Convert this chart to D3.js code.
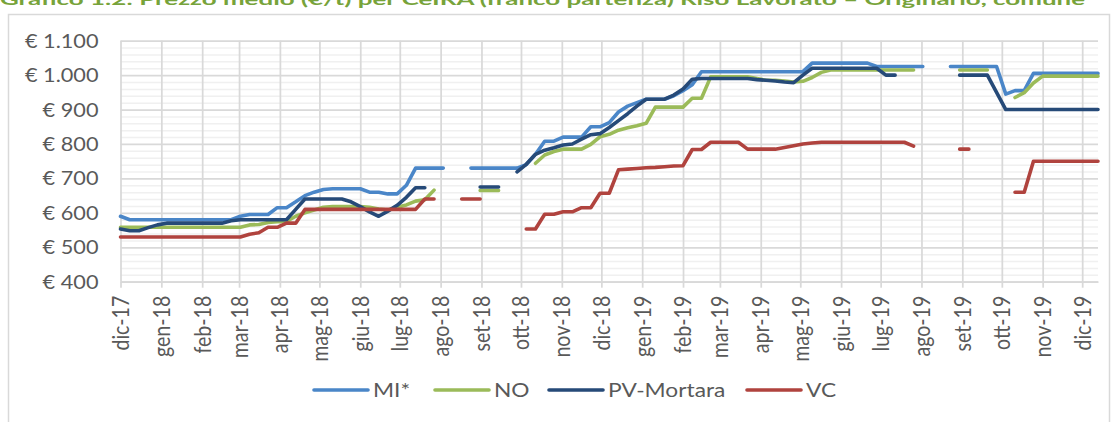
<!DOCTYPE html>
<html><head><meta charset="utf-8">
<script src="https://cdn.jsdelivr.net/npm/d3@7"></script>
<style>body{margin:0;background:#fff}svg{display:block}</style>
</head><body>
<svg width="1115" height="422"></svg>
<script>
const dates = [
"2017-12-05","2017-12-12","2017-12-19","2017-12-26","2018-01-02","2018-01-09","2018-01-16","2018-01-23","2018-01-30",
"2018-02-06","2018-02-13","2018-02-20","2018-02-27","2018-03-06","2018-03-13","2018-03-20","2018-03-27",
"2018-04-03","2018-04-10","2018-04-17","2018-04-24","2018-05-01","2018-05-08","2018-05-15","2018-05-22","2018-05-29",
"2018-06-05","2018-06-12","2018-06-19","2018-06-26","2018-07-03","2018-07-10","2018-07-17","2018-07-24","2018-07-31",
"2018-08-07","2018-08-14","2018-08-21","2018-08-28","2018-09-04","2018-09-11","2018-09-18","2018-09-25",
"2018-10-02","2018-10-09","2018-10-16","2018-10-23","2018-10-30","2018-11-06","2018-11-13","2018-11-20","2018-11-27",
"2018-12-04","2018-12-11","2018-12-18","2018-12-25","2019-01-01","2019-01-08","2019-01-15","2019-01-22","2019-01-29",
"2019-02-05","2019-02-12","2019-02-19","2019-02-26","2019-03-05","2019-03-12","2019-03-19","2019-03-26",
"2019-04-02","2019-04-09","2019-04-16","2019-04-23","2019-04-30","2019-05-07","2019-05-14","2019-05-21","2019-05-28",
"2019-06-04","2019-06-11","2019-06-18","2019-06-25","2019-07-02","2019-07-09","2019-07-16","2019-07-23","2019-07-30",
"2019-08-06","2019-08-13","2019-08-20","2019-08-27","2019-09-03","2019-09-10","2019-09-17","2019-09-24",
"2019-10-01","2019-10-08","2019-10-15","2019-10-22","2019-10-29","2019-11-05","2019-11-12","2019-11-19","2019-11-26",
"2019-12-03","2019-12-10","2019-12-17"];

const MI = [590,580,580,580,580,580,580,580,580,580,580,580,580,590,595,595,595,615,615,632,650,660,668,670,670,670,670,660,660,655,655,680,730,730,730,730,null,null,730,730,730,730,730,730,
740,770,808,808,820,820,820,850,850,862,893,910,920,930,930,930,940,955,972,
1010,1010,1010,1010,1010,1010,1010,1010,1010,1010,1010,1010,1035,1035,1035,1035,1035,1035,1035,1025,1025,1025,1025,1025,1025,null,null,
1025,1025,1025,1025,1025,1025,945,955,955,1005,1005,1005,1005,1005,1005,1005,1005];

const NO = [558,558,558,558,558,558,558,558,558,558,558,558,558,558,565,566,572,574,575,590,600,608,616,618,618,618,618,616,611,608,616,623,634,638,666,null,null,null,null,665,665,665,null,null,null,
744,768,778,785,785,785,799,821,828,840,847,853,860,907,907,907,907,933,933,995,995,995,995,995,990,985,985,983,980,982,993,1008,
1015,1015,1015,1015,1015,1015,1015,1015,1015,1015,null,null,null,null,1015,1015,1015,1015,null,null,935,949,977,997,997,997,997,997,997,997];

const PV = [553,548,548,557,565,570,570,570,570,570,570,570,577,580,580,580,580,580,580,610,640,640,640,640,640,632,618,603,590,605,622,645,673,673,null,null,null,null,null,675,675,675,null,
719,741,770,782,789,797,800,814,827,830,848,868,888,910,930,930,930,942,960,988,990,990,990,990,990,990,987,985,983,980,978,1000,
1020,1020,1020,1020,1020,1020,1020,1020,1000,1000,null,null,null,null,null,null,1000,1000,1000,1000,950,900,900,900,900,900,900,900,900,900,900,900];

const VC = [530,530,530,530,530,530,530,530,530,530,530,530,530,530,538,542,558,558,570,570,610,610,610,610,610,610,610,610,610,610,610,610,610,640,640,null,null,640,640,640,null,null,null,null,
553,553,596,596,603,603,615,615,657,657,725,727,729,731,732,734,736,737,784,784,805,805,805,805,785,785,785,785,790,795,800,803,
805,805,805,805,805,805,805,805,805,805,794,null,null,null,null,785,785,null,null,null,null,660,660,750,750,750,750,750,750,750,750];

const seriesNames = ["MI*","NO","PV-Mortara","VC"];
const seriesColors = ["#4A86C8","#9BBB59","#264A78","#B0433E"];
const yTicks = [400,500,600,700,800,900,1000,1100];
const monthLabels = ["dic-17","gen-18","feb-18","mar-18","apr-18","mag-18","giu-18","lug-18","ago-18","set-18","ott-18","nov-18",
"dic-18","gen-19","feb-19","mar-19","apr-19","mag-19","giu-19","lug-19","ago-19","set-19","ott-19","nov-19","dic-19"];
const titleText = "Grafico 1.2: Prezzo medio (€/t) per CeIRA (franco partenza) Riso Lavorato – Originario, comune";

const FONT = "Lato, 'Open Sans', sans-serif";
const FS = 18.7, FSX = 19.6, SX = 1.16, TXT = "#595959";
const L = 120.5, R = 1098, T = 40.7, B = 281.7;

const svg = d3.select("svg");
const parse = d3.timeParse("%Y-%m-%d");
const dt = dates.map(parse);
const tickDates = monthLabels.map((m,i)=>d3.timeMonth.offset(dt[0], i));
const x = d3.scaleTime().domain([dt[0], dt[dt.length-1]]).range([L, R]);
const y = d3.scaleLinear().domain([400,1100]).range([B, T]);

// title (cut off at top, as in the source)
svg.append("text").attr("x",0).attr("y",4.5).attr("font-family",FONT).attr("font-weight","bold")
  .attr("font-size",16).attr("fill","#77A33A").attr("textLength",1085).attr("lengthAdjust","spacingAndGlyphs").text(titleText);

// chart border
svg.append("rect").attr("x",8.5).attr("y",14.5).attr("width",1101).attr("height",440)
  .attr("fill","none").attr("stroke","#D9D9D9").attr("stroke-width",1.5);

// minor horizontal grid
const minorTicks = d3.range(420,1100,20).filter(v=>v%100!==0);
svg.append("g").attr("transform",`translate(${L},0)`)
  .call(d3.axisLeft(y).tickValues(minorTicks).tickSize(-(R-L)).tickFormat(""))
  .call(g=>g.select(".domain").remove())
  .call(g=>g.selectAll("line").attr("stroke","#F0F0F0").attr("stroke-width",1.5));

// major horizontal grid + labels
svg.append("g").attr("transform",`translate(${L},0)`)
  .call(d3.axisLeft(y).tickValues(yTicks).tickSize(-(R-L)).tickPadding(0)
     .tickFormat(d=>"€ " + d3.format(",")(d).replace(",", ".")))
  .call(g=>g.select(".domain").remove())
  .call(g=>g.selectAll("line").attr("stroke","#D9D9D9").attr("stroke-width",1.75))
  .call(g=>g.selectAll("text").attr("x",null).attr("dy","0.35em")
     .attr("transform",`translate(-22,0) scale(${SX},1)`)
     .attr("font-family",FONT).attr("font-size",FS).attr("fill",TXT).attr("text-anchor","end"));

// vertical grid
svg.append("g").attr("transform",`translate(0,${B})`)
  .call(d3.axisBottom(x).tickValues(tickDates).tickSize(-(B-T)).tickFormat(""))
  .call(g=>g.select(".domain").remove())
  .call(g=>g.selectAll("line").attr("stroke","#D9D9D9").attr("stroke-width",1.75));

// x axis
svg.append("g").attr("transform",`translate(0,${B})`)
  .call(d3.axisBottom(x).tickValues(tickDates).tickSize(6).tickSizeOuter(0).tickFormat((d,i)=>monthLabels[i]))
  .call(g=>g.select(".domain").attr("stroke","#D9D9D9").attr("stroke-width",1.75))
  .call(g=>g.selectAll("line").attr("stroke","#D9D9D9").attr("stroke-width",1.75))
  .call(g=>g.selectAll("text").attr("y",null).attr("dy","0.35em")
     .attr("transform",`translate(0,14) scale(${SX},1) rotate(-90)`)
     .attr("text-anchor","end").attr("font-family",FONT).attr("font-size",FSX).attr("fill",TXT));

// series
const series = [MI, NO, PV, VC];
const line = d3.line().defined(d=>d!=null).x((d,i)=>x(dt[i])).y(d=>y(d));
series.forEach((s,k)=>{
  svg.append("path").datum(s).attr("d",line).attr("fill","none")
    .attr("stroke",seriesColors[k]).attr("stroke-width",3.6)
    .attr("stroke-linecap","round").attr("stroke-linejoin","round");
});

// legend
const legX = [314, 435, 549, 747];
const legY = 390;
const lg = svg.append("g");
seriesNames.forEach((n,k)=>{
  lg.append("line").attr("x1",legX[k]).attr("x2",legX[k]+54).attr("y1",legY).attr("y2",legY)
    .attr("stroke",seriesColors[k]).attr("stroke-width",3.6).attr("stroke-linecap","round");
  lg.append("text").attr("transform",`translate(${legX[k]+59},${legY}) scale(${SX},1)`)
    .attr("dy","0.35em").attr("font-family",FONT).attr("font-size",FSX).attr("fill",TXT).text(n);
});
</script>
</body></html>
